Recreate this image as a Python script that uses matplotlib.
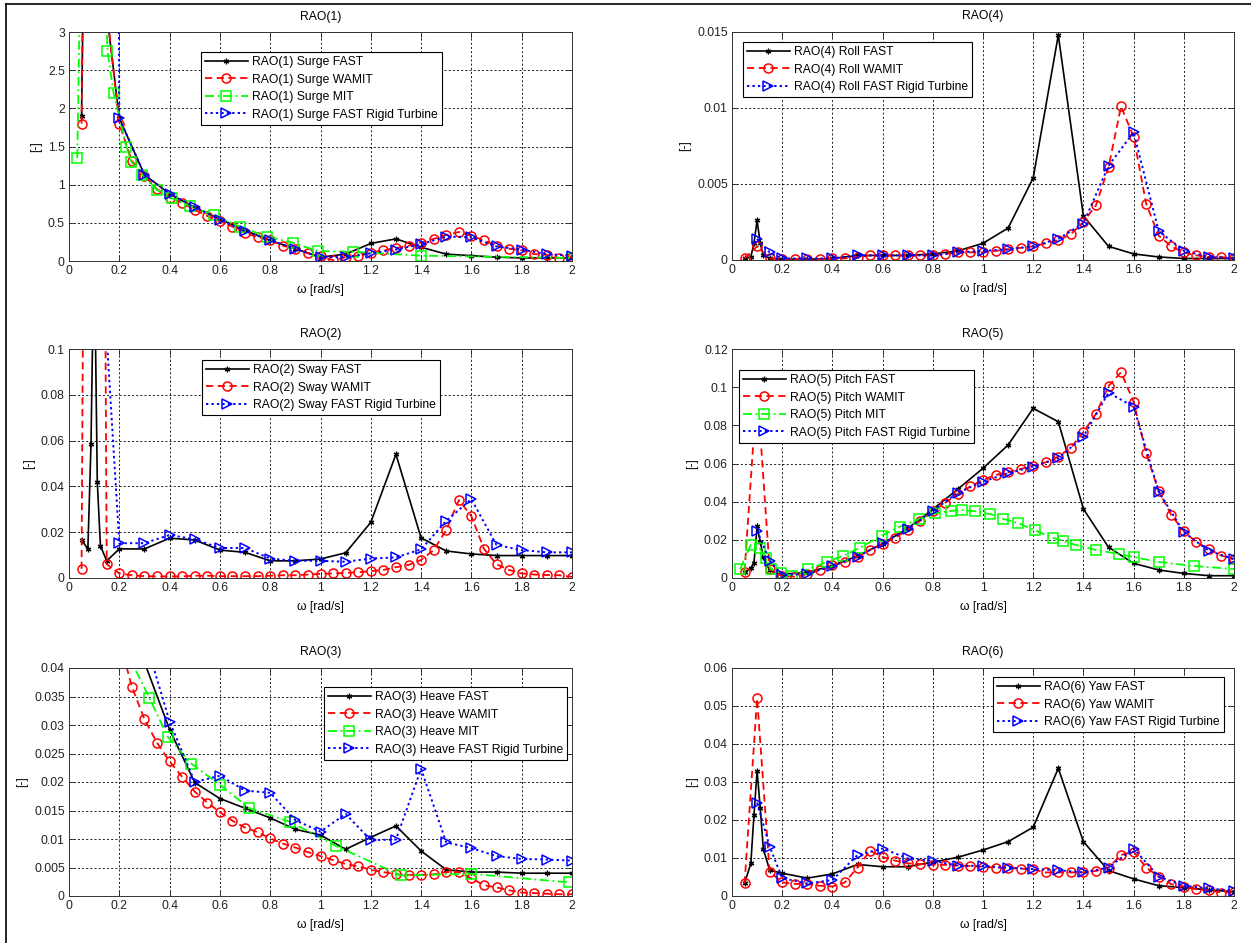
import matplotlib
matplotlib.use('Agg')
import matplotlib.pyplot as plt
from matplotlib.ticker import FuncFormatter, MultipleLocator
from matplotlib.lines import Line2D

plt.rcParams['font.family'] = ['Liberation Sans', 'DejaVu Sans']

# ---------------- frequency grids ----------------
w_fast = [0.05, 0.075, 0.0875, 0.1, 0.1125, 0.125, 0.15, 0.2, 0.3, 0.4, 0.5, 0.6, 0.7,
          0.8, 0.9, 1.0, 1.1, 1.2, 1.3, 1.4, 1.5, 1.6, 1.7, 1.8, 1.9, 2.0]
w_wamit = [0.05, 0.1, 0.15, 0.2, 0.25, 0.3, 0.35, 0.4, 0.45, 0.5, 0.55, 0.6, 0.65, 0.7,
           0.75, 0.8, 0.85, 0.9, 0.95, 1.0, 1.05, 1.1, 1.15, 1.2, 1.25, 1.3, 1.35, 1.4,
           1.45, 1.5, 1.55, 1.6, 1.65, 1.7, 1.75, 1.8, 1.85, 1.9, 1.95, 2.0]
w_rigid = [0.1, 0.15, 0.2, 0.3, 0.4, 0.5, 0.6, 0.7, 0.8, 0.9, 1.0, 1.1, 1.2, 1.3, 1.4,
           1.5, 1.6, 1.7, 1.8, 1.9, 2.0]

# ---------------- RAO(1) Surge ----------------
surge_fast = [1.9, 8.0, 12.0, 15.0, 10.0, 6.0, 3.25, 1.87, 1.13, 0.88, 0.70, 0.55, 0.40,
              0.27, 0.16, 0.05, 0.09, 0.23, 0.29, 0.18, 0.09, 0.07, 0.05, 0.04, 0.04, 0.04]
surge_wamit = [1.8, 20.0, 3.3, 1.8, 1.31, 1.12, 0.94, 0.83, 0.76, 0.67, 0.59, 0.52, 0.45,
               0.37, 0.31, 0.27, 0.2, 0.16, 0.1, 0.06, 0.01, 0.05, 0.07, 0.11, 0.14, 0.17,
               0.2, 0.24, 0.29, 0.34, 0.38, 0.33, 0.27, 0.2, 0.16, 0.14, 0.09, 0.08, 0.04, 0.05]
surge_mit_w = [0.033, 0.075, 0.11, 0.153, 0.177, 0.228, 0.248, 0.291, 0.35, 0.41, 0.48,
               0.577, 0.68, 0.786, 0.89, 0.99, 1.13, 1.4, 2.0]
surge_mit = [1.35, 10.0, 8.0, 2.75, 2.2, 1.5, 1.3, 1.13, 0.93, 0.82, 0.72, 0.6, 0.45, 0.32,
             0.24, 0.13, 0.12, 0.07, 0.04]
surge_rigid = [30.0, 40.0, 1.87, 1.13, 0.88, 0.71, 0.54, 0.39, 0.27, 0.16, 0.05, 0.05, 0.1,
               0.15, 0.22, 0.32, 0.31, 0.19, 0.15, 0.09, 0.07]

# ---------------- RAO(4) Roll ----------------
roll_fast = [0.0001, 0.0002, 0.0011, 0.0026, 0.0011, 0.0003, 0.0001, 0.00005, 0.00005,
             0.0001, 0.0003, 0.0003, 0.0003, 0.0004, 0.0006, 0.0011, 0.0021, 0.0054, 0.0148,
             0.0029, 0.0009, 0.0004, 0.0002, 0.0001, 0.0001, 0.0001]
roll_wamit = [0.0001, 0.0009, 0.0001, 0.00005, 0.00005, 0.00005, 0.00005, 0.0001, 0.0001,
              0.0002, 0.0003, 0.0003, 0.0003, 0.0003, 0.0003, 0.0003, 0.0004, 0.0005, 0.0005,
              0.0005, 0.0006, 0.0007, 0.0008, 0.0009, 0.0011, 0.0013, 0.0017, 0.0025, 0.0036,
              0.0061, 0.0101, 0.0081, 0.0037, 0.0016, 0.0009, 0.0005, 0.0003, 0.0002, 0.0002,
              0.0001]
roll_rigid = [0.0014, 0.0005, 0.0001, 0.0001, 0.0001, 0.0003, 0.0003, 0.0003, 0.0003,
              0.0005, 0.0006, 0.0007, 0.0009, 0.0014, 0.0024, 0.0062, 0.0084, 0.0019, 0.0006,
              0.0002, 0.0001]

# ---------------- RAO(2) Sway ----------------
sway_fast = [0.0166, 0.0127, 0.0585, 0.15, 0.042, 0.014, 0.0075, 0.0127, 0.0127, 0.0174,
             0.0166, 0.0122, 0.0112, 0.0075, 0.0075, 0.0083, 0.011, 0.0243, 0.054, 0.0175,
             0.0118, 0.0105, 0.0098, 0.0098, 0.0098, 0.0098]
sway_wamit = [0.004, 1.0, 0.006, 0.002, 0.0012, 0.0008, 0.0007, 0.0007, 0.0007, 0.001,
              0.001, 0.0008, 0.0008, 0.0008, 0.0008, 0.001, 0.0012, 0.0012, 0.0015, 0.0018,
              0.002, 0.0022, 0.0025, 0.003, 0.0035, 0.0047, 0.0057, 0.0079, 0.0122, 0.021,
              0.034, 0.027, 0.0127, 0.006, 0.0035, 0.002, 0.0015, 0.0013, 0.0012, 0.0005]
sway_rigid = [0.3, 0.105, 0.0152, 0.0152, 0.0188, 0.0169, 0.0131, 0.0131, 0.0085, 0.0075,
              0.0075, 0.0071, 0.0085, 0.009, 0.0125, 0.025, 0.0344, 0.0144, 0.0122, 0.0112,
              0.0112]

# ---------------- RAO(5) Pitch ----------------
pitch_fast = [0.003, 0.005, 0.008, 0.027, 0.019, 0.011, 0.004, 0.002, 0.003, 0.0065,
              0.0115, 0.018, 0.026, 0.036, 0.0466, 0.0575, 0.0697, 0.0889, 0.0819, 0.0362,
              0.0161, 0.0077, 0.0042, 0.0024, 0.0012, 0.0012]
pitch_wamit = [0.0033, 0.1, 0.0045, 0.001, 0.0007, 0.002, 0.0042, 0.0068, 0.0082, 0.0112,
               0.0147, 0.0177, 0.0211, 0.0252, 0.03, 0.0351, 0.0395, 0.044, 0.048, 0.0514,
               0.054, 0.0554, 0.0571, 0.0589, 0.0606, 0.0636, 0.0683, 0.0764, 0.086, 0.1006,
               0.1078, 0.0924, 0.0653, 0.0456, 0.033, 0.0246, 0.0187, 0.0152, 0.0117, 0.01]
pitch_mit_w = [0.032, 0.0745, 0.11, 0.135, 0.154, 0.195, 0.239, 0.301, 0.38, 0.444, 0.51,
               0.596, 0.669, 0.745, 0.809, 0.871, 0.915, 0.968, 1.028, 1.08, 1.14, 1.206,
               1.28, 1.32, 1.37, 1.45, 1.54, 1.6, 1.7, 1.84, 2.0]
pitch_mit = [0.0045, 0.0173, 0.0155, 0.0103, 0.0047, 0.0025, 0.0012, 0.0045, 0.0085, 0.0117,
             0.0159, 0.0222, 0.0269, 0.0308, 0.0339, 0.0351, 0.0356, 0.035, 0.0335, 0.031,
             0.0288, 0.025, 0.021, 0.0194, 0.0173, 0.0147, 0.0126, 0.011, 0.0084, 0.0063,
             0.0047]
pitch_rigid = [0.0248, 0.009, 0.0016, 0.0021, 0.0063, 0.0112, 0.0182, 0.0257, 0.0353,
               0.0447, 0.0505, 0.0549, 0.0584, 0.0627, 0.0741, 0.0971, 0.0898, 0.0452, 0.024,
               0.0143, 0.0098]

# ---------------- RAO(3) Heave ----------------
heave_fast = [1.0, 0.95, 0.9, 0.85, 0.6, 0.4, 0.2, 0.07, 0.041, 0.0292, 0.0199, 0.0171,
              0.0154, 0.0137, 0.0117, 0.0107, 0.0082, 0.0103, 0.0123, 0.0079, 0.0046, 0.0042,
              0.0042, 0.004, 0.004, 0.004]
heave_wamit = [1.0, 0.6, 0.12, 0.045, 0.0367, 0.031, 0.0269, 0.0236, 0.0209, 0.0183, 0.0164,
               0.0147, 0.0132, 0.012, 0.0112, 0.0101, 0.0092, 0.0085, 0.0077, 0.007, 0.0063,
               0.0056, 0.0052, 0.0046, 0.0042, 0.0038, 0.0037, 0.0037, 0.0038, 0.0042,
               0.0042, 0.0031, 0.0019, 0.0015, 0.001, 0.0006, 0.0005, 0.0004, 0.0003, 0.0003]
heave_mit_w = [0.2, 0.25, 0.32, 0.393, 0.487, 0.6, 0.717, 0.88, 1.061, 1.32, 1.597, 1.987]
heave_mit = [0.055, 0.041, 0.0347, 0.0279, 0.0232, 0.0195, 0.0154, 0.013, 0.0088, 0.0036,
             0.0039, 0.0024]
heave_rigid = [0.8, 0.3, 0.08, 0.0455, 0.0306, 0.02, 0.0211, 0.0185, 0.0181, 0.0133, 0.0113,
               0.0144, 0.0098, 0.0099, 0.0223, 0.0094, 0.0084, 0.007, 0.0065, 0.0064, 0.0062]

# ---------------- RAO(6) Yaw ----------------
yaw_fast = [0.0033, 0.0086, 0.0213, 0.033, 0.0231, 0.0123, 0.0068, 0.006, 0.0047, 0.0058,
            0.0083, 0.0077, 0.0077, 0.0089, 0.0102, 0.0121, 0.0143, 0.0181, 0.0336, 0.0143,
            0.0067, 0.0045, 0.0027, 0.0022, 0.0016, 0.0011]
yaw_wamit = [0.0033, 0.052, 0.0064, 0.0036, 0.0032, 0.0031, 0.0027, 0.0025, 0.0036, 0.0075,
             0.0119, 0.0103, 0.0093, 0.0086, 0.0084, 0.0082, 0.0082, 0.008, 0.0079, 0.0077,
             0.0075, 0.0074, 0.0072, 0.007, 0.0062, 0.0062, 0.0062, 0.0062, 0.0066, 0.0075,
             0.0108, 0.0117, 0.0075, 0.0051, 0.0031, 0.0025, 0.0018, 0.0015, 0.0009, 0.0011]
yaw_rigid = [0.0246, 0.013, 0.0047, 0.0033, 0.0042, 0.0108, 0.0125, 0.0099, 0.0093, 0.008,
             0.0079, 0.0074, 0.0071, 0.0068, 0.0062, 0.0075, 0.0125, 0.0051, 0.0027, 0.002,
             0.0013]

# ---------------- figure ----------------
W, H = 1251, 943
fig = plt.figure(figsize=(W / 100, H / 100), dpi=100)
fig.patch.set_facecolor('white')

FS = 8.7


def ax_rect(x0, x1, ytop, ybot):
    return [x0 / W, 1 - ybot / H, (x1 - x0) / W, (ybot - ytop) / H]


STY = {
    'fast': dict(color='black', ls='-', marker=(6, 2, 0), ms=4, lw=1.2, mew=0.9),
    'wamit': dict(color='red', ls=(0, (4, 2.5)), marker='o', ms=6.5, lw=1.3, mfc='none', mew=1.1),
    'mit': dict(color='#00ff00', ls=(0, (5, 2, 1, 2)), marker='s', ms=6.8, lw=1.3, mfc='none', mew=1.1),
    'rigid': dict(color='blue', ls=(0, (1.2, 1.6)), marker='>', ms=7.5, lw=1.4, mfc='none', mew=1.1),
}

fmt = FuncFormatter(lambda v, p: ('%g' % round(v, 6)))


def make_axes(rect, title, ymax, ystep, series, legend_xy):
    ax = fig.add_axes(rect)
    handles = []
    for (x, y, kind, label) in series:
        h, = ax.plot(x, y, label=label, **STY[kind])
        handles.append(h)
    ax.set_xlim(0, 2)
    ax.set_ylim(0, ymax)
    ax.xaxis.set_major_locator(MultipleLocator(0.2))
    ax.yaxis.set_major_locator(MultipleLocator(ystep))
    ax.xaxis.set_major_formatter(fmt)
    ax.yaxis.set_major_formatter(fmt)
    ax.grid(True, color='black', ls=(0, (2.5, 2.5)), lw=0.6)
    ax.tick_params(direction='in', top=True, right=True, length=4, width=0.6,
                   labelsize=FS, pad=3, colors='#222222')
    for s in ax.spines.values():
        s.set_linewidth(0.7)
        s.set_color('#333333')
    ax.set_title(title, fontsize=FS, pad=9)
    ax.set_xlabel('\u03c9 [rad/s]', fontsize=FS, labelpad=5)
    ax.set_ylabel('[-]', fontsize=FS, labelpad=4)
    leg = ax.legend(handles=handles, loc='upper left',
                    bbox_to_anchor=(legend_xy[0] / W, 1 - legend_xy[1] / H),
                    bbox_transform=fig.transFigure, fontsize=FS, fancybox=False,
                    framealpha=1, edgecolor='black', borderpad=0.35, labelspacing=0.45,
                    handlelength=3.5, handletextpad=0.35, borderaxespad=0)
    leg.get_frame().set_linewidth(0.8)
    return ax


LX0, LX1 = 69, 572
RX0, RX1 = 732, 1234

make_axes(ax_rect(LX0, LX1, 32, 261), 'RAO(1)', 3, 0.5, [
    (w_fast, surge_fast, 'fast', 'RAO(1) Surge FAST'),
    (w_wamit, surge_wamit, 'wamit', 'RAO(1) Surge WAMIT'),
    (surge_mit_w, surge_mit, 'mit', 'RAO(1) Surge MIT'),
    (w_rigid, surge_rigid, 'rigid', 'RAO(1) Surge FAST Rigid Turbine'),
], (201, 52))

make_axes(ax_rect(RX0, RX1, 32, 260), 'RAO(4)', 0.015, 0.005, [
    (w_fast, roll_fast, 'fast', 'RAO(4) Roll FAST'),
    (w_wamit, roll_wamit, 'wamit', 'RAO(4) Roll WAMIT'),
    (w_rigid, roll_rigid, 'rigid', 'RAO(4) Roll FAST Rigid Turbine'),
], (743, 42))

make_axes(ax_rect(LX0, LX1, 349, 578), 'RAO(2)', 0.1, 0.02, [
    (w_fast, sway_fast, 'fast', 'RAO(2) Sway FAST'),
    (w_wamit, sway_wamit, 'wamit', 'RAO(2) Sway WAMIT'),
    (w_rigid, sway_rigid, 'rigid', 'RAO(2) Sway FAST Rigid Turbine'),
], (202, 360))

make_axes(ax_rect(RX0, RX1, 349, 578), 'RAO(5)', 0.12, 0.02, [
    (w_fast, pitch_fast, 'fast', 'RAO(5) Pitch FAST'),
    (w_wamit, pitch_wamit, 'wamit', 'RAO(5) Pitch WAMIT'),
    (pitch_mit_w, pitch_mit, 'mit', 'RAO(5) Pitch MIT'),
    (w_rigid, pitch_rigid, 'rigid', 'RAO(5) Pitch FAST Rigid Turbine'),
], (739, 370))

make_axes(ax_rect(LX0, LX1, 668, 896), 'RAO(3)', 0.04, 0.005, [
    (w_fast, heave_fast, 'fast', 'RAO(3) Heave FAST'),
    (w_wamit, heave_wamit, 'wamit', 'RAO(3) Heave WAMIT'),
    (heave_mit_w, heave_mit, 'mit', 'RAO(3) Heave MIT'),
    (w_rigid, heave_rigid, 'rigid', 'RAO(3) Heave FAST Rigid Turbine'),
], (324, 687))

make_axes(ax_rect(RX0, RX1, 668, 896), 'RAO(6)', 0.06, 0.01, [
    (w_fast, yaw_fast, 'fast', 'RAO(6) Yaw FAST'),
    (w_wamit, yaw_wamit, 'wamit', 'RAO(6) Yaw WAMIT'),
    (w_rigid, yaw_rigid, 'rigid', 'RAO(6) Yaw FAST Rigid Turbine'),
], (993, 677))

# outer frame lines of the screenshot
fig.add_artist(Line2D([6 / W, 6 / W], [0, 1 - 4 / H], transform=fig.transFigure,
                      color='black', lw=1.2))
fig.add_artist(Line2D([6 / W, 1], [1 - 4 / H, 1 - 4 / H], transform=fig.transFigure,
                      color='black', lw=1.2))

fig.savefig('out.png', dpi=100, facecolor='white')
